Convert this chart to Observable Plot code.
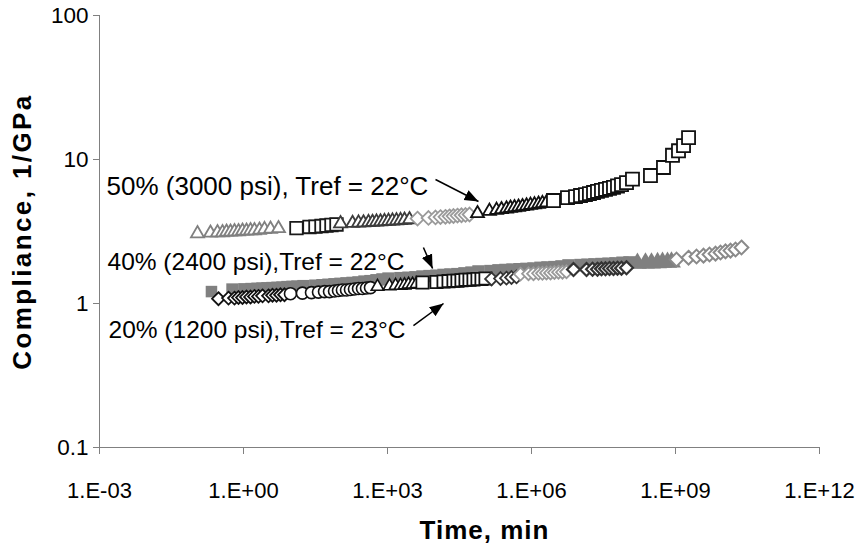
<!DOCTYPE html>
<html><head><meta charset="utf-8">
<script src="https://cdn.jsdelivr.net/npm/d3@7"></script>
<script src="https://cdn.jsdelivr.net/npm/@observablehq/plot@0.6"></script>
<style>html,body{margin:0;padding:0;background:#fff;}</style>
</head><body><div id="chart"></div>
<script>
// ---- axis ticks ----
const xTicks = [1e-3, 1e0, 1e3, 1e6, 1e9, 1e12];
const xTickLabels = ["1.E-03","1.E+00","1.E+03","1.E+06","1.E+09","1.E+12"];
const yTicks = [0.1, 1, 10, 100];
const yTickLabels = ["0.1","1","10","100"];
const xTitle = "Time, min";
const yTitle = "Compliance, 1/GPa";

// ---- 50% (3000 psi) master curve segments: time (min), compliance (1/GPa) ----
const s50a_t = [0.11,0.205,0.287,0.365,0.443,0.536,0.649,0.787,0.953,1.155,1.40,1.69,2.15,2.74,3.65,5.36];
const s50a_c = [3.06,3.09,3.11,3.11,3.14,3.14,3.16,3.16,3.19,3.19,3.21,3.21,3.24,3.27,3.29,3.32];
const s50b_t = [12.7,23.7,31.6,42.2,53.6,68.1,86.6];
const s50b_c = [3.34,3.40,3.42,3.45,3.48,3.51,3.54];
const s50c_t = [105,187,249,316,402,487,590,714,866,1050,1270,1540,1870,2260,2870];
const s50c_c = [3.59,3.61,3.63,3.64,3.66,3.67,3.69,3.70,3.72,3.73,3.75,3.76,3.78,3.80,3.83];
const s50d_t = [4220,7140,1e4,12700,16100,19600,23700,28700,34800,42200,51100];
const s50d_c = [3.89,3.93,3.96,3.98,4.00,4.03,4.05,4.08,4.10,4.12,4.15];
const s50e_t = [7.5e4,1.33e5,1.87e5,2.37e5,3.01e5,3.65e5,4.42e5,5.36e5,6.49e5,7.87e5,9.53e5,1.155e6,1.40e6,1.69e6,2.05e6];
const s50e_c = [4.22,4.38,4.45,4.50,4.55,4.60,4.64,4.68,4.72,4.77,4.82,4.86,4.91,4.96,5.02];
const s50f_t = [2.87e6,5.62e6,8.25e6,1.05e7,1.33e7,1.61e7,1.96e7,2.37e7,2.87e7,3.48e7,4.22e7,5.11e7,6.19e7,7.5e7,9.53e7,1.27e8];
const s50f_c = [5.19,5.44,5.52,5.62,5.71,5.80,5.90,6.00,6.10,6.20,6.30,6.40,6.55,6.70,6.90,7.30];
const s50g_t = [3.01e8,5.62e8,8.66e8,1.155e9,1.47e9,1.87e9];
const s50g_c = [7.74,8.80,10.7,11.5,12.5,14.2];

// ---- 40% (2400 psi) master curve segments ----
const s40h_t = [0.215];
const s40h_c = [1.21];
const s40i1_t = [0.59,1.05,1.47,1.96,2.49,3.16,4.02,5.11,6.49,8.25,10.5,13.3];
const s40i1_c = [1.25,1.255,1.26,1.265,1.27,1.275,1.28,1.285,1.29,1.30,1.305,1.31];
const s40i2_t = [17.8,31.6,44.2,59,78.7,105,140,187,249,332,442,590,787];
const s40i2_c = [1.32,1.33,1.34,1.35,1.36,1.37,1.38,1.39,1.40,1.42,1.43,1.45,1.47];
const s40i3_t = [1050,1870,2740,3830,5360,7500,10500,14700,20500,28700,40200,56200];
const s40i3_c = [1.49,1.50,1.51,1.52,1.54,1.55,1.56,1.58,1.59,1.60,1.62,1.64];
const s40i4_t = [7.87e4,1.4e5,2.05e5,2.87e5,4.02e5,5.62e5,7.87e5,1.1e6,1.54e6,2.15e6,3.01e6,4.22e6];
const s40i4_c = [1.67,1.68,1.70,1.71,1.72,1.73,1.74,1.75,1.77,1.78,1.79,1.81];
const s40i5_t = [5.9e6,1.05e7,1.47e7,2.05e7,2.87e7,4.02e7,5.62e7,7.87e7,1.1e8];
const s40i5_c = [1.84,1.85,1.86,1.87,1.88,1.89,1.90,1.92,1.93];
const s40i6_t = [1.61e8,2.37e8,3.16e8,4.22e8,5.36e8,6.81e8,8.25e8];
const s40i6_c = [1.90,1.91,1.91,1.92,1.93,1.93,1.94];
const s40i7_t = [1.05e9,1.87e9,2.74e9,3.83e9,5.11e9,6.81e9,8.66e9,1.1e10,1.4e10,1.78e10,2.37e10];
const s40i7_c = [2.02,2.08,2.12,2.15,2.19,2.22,2.26,2.30,2.33,2.37,2.45];

// ---- 20% (1200 psi) master curve segments ----
const s20j1_t = [0.301,0.487,0.649,0.787,0.953,1.155,1.40,1.69,2.05,2.49,3.32,4.02,4.87,5.90,7.14];
const s20j1_c = [1.08,1.09,1.09,1.10,1.10,1.11,1.11,1.12,1.12,1.13,1.13,1.14,1.14,1.15,1.15];
const s20j2_t = [9.53,16.9,26.1,36.5,48.7,61.9,78.7,95.3,115,140,169,205,249,301,365,442];
const s20j2_c = [1.17,1.18,1.19,1.20,1.21,1.21,1.22,1.23,1.24,1.24,1.25,1.26,1.27,1.27,1.28,1.29];
const s20j3_t = [619,1100,1470,1870,2260,2740,3320,4020];
const s20j3_c = [1.31,1.32,1.33,1.33,1.34,1.355,1.355,1.366];
const s20j4_t = [5360,10500,14700,18700,23700,28700,34800,42200,51100,61900,75000,90900,110000];
const s20j4_c = [1.40,1.41,1.42,1.43,1.44,1.44,1.45,1.46,1.46,1.47,1.48,1.48,1.49];
const s20j5_t = [1.47e5,2.26e5,3.01e5,3.83e5,4.87e5];
const s20j5_c = [1.48,1.49,1.50,1.515,1.53];
const s20j6_t = [5.9e5,8.66e5,1.1e6,1.4e6,1.69e6,2.05e6,2.49e6,3.01e6,3.65e6,4.42e6,5.36e6];
const s20j6_c = [1.60,1.61,1.61,1.62,1.62,1.63,1.63,1.64,1.65,1.65,1.66];
const s20j7_t = [7.5e6,1.4e7,1.87e7,2.37e7,2.87e7,3.48e7,4.22e7,5.11e7,6.19e7,7.5e7,9.53e7];
const s20j7_c = [1.72,1.72,1.73,1.73,1.74,1.74,1.75,1.75,1.76,1.76,1.77];

// ---- annotations ----
const labelText = ["50% (3000 psi), Tref = 22°C", "40% (2400 psi),Tref = 22°C", "20% (1200 psi),Tref = 23°C"];
const labelT = [1.4e-3, 1.47e-3, 1.54e-3];
const labelC = [6.49, 1.93, 0.65];
const arrowT1 = [1e4, 5600, 3470];
const arrowC1 = [7.26, 2.45, 0.703];
const arrowT2 = [7.87e4, 8700, 14700];
const arrowC2 = [5.11, 1.75, 1.0];

// ---- styles (drawing order) ----
const G = "#808080";
const labelSizes = [26, 24.5, 24.5];
const segs = [
  [s50a_t, s50a_c, {symbol:"triangle2", r:6.2, stroke:G, fill:"white", strokeWidth:1.8}],
  [s50b_t, s50b_c, {symbol:"square2", r:8, stroke:"#1a1a1a", fill:"white", strokeWidth:1.8}],
  [s50c_t, s50c_c, {symbol:"triangle2", r:6.2, stroke:"#3c3c3c", fill:"white", strokeWidth:1.8}],
  [s50d_t, s50d_c, {symbol:"diamond2", r:6.2, stroke:"#9a9a9a", fill:"white", strokeWidth:1.8}],
  [s50e_t, s50e_c, {symbol:"triangle2", r:6.2, stroke:"#111", fill:"white", strokeWidth:1.8}],
  [s50f_t, s50f_c, {symbol:"square2", r:8.3, stroke:"#111", fill:"white", strokeWidth:1.8}],
  [s50g_t, s50g_c, {symbol:"square2", r:8.3, stroke:"#111", fill:"white", strokeWidth:1.8}],
  [s40h_t, s40h_c, {symbol:"square", r:6.5, stroke:"none", fill:G}],
  [s40i1_t, s40i1_c, {symbol:"square", r:7, stroke:"none", fill:G}],
  [s40i2_t, s40i2_c, {symbol:"square", r:7, stroke:"none", fill:G}],
  [s40i3_t, s40i3_c, {symbol:"square", r:7, stroke:"none", fill:G}],
  [s40i4_t, s40i4_c, {symbol:"square", r:7, stroke:"none", fill:G}],
  [s40i5_t, s40i5_c, {symbol:"square", r:7, stroke:"none", fill:G}],
  [s40i6_t, s40i6_c, {symbol:"triangle", r:7, stroke:"none", fill:G}],
  [s40i7_t, s40i7_c, {symbol:"diamond2", r:6.2, stroke:"#8a8a8a", fill:"white", strokeWidth:2}],
  [s20j1_t, s20j1_c, {symbol:"diamond2", r:5.8, stroke:"#111", fill:"white", strokeWidth:1.8}],
  [s20j2_t, s20j2_c, {symbol:"circle", r:6, stroke:"#111", fill:"white", strokeWidth:1.6}],
  [s20j3_t, s20j3_c, {symbol:"triangle2", r:6, stroke:"#111", fill:"white", strokeWidth:1.6}],
  [s20j4_t, s20j4_c, {symbol:"square2", r:7.8, stroke:"#111", fill:"white", strokeWidth:1.8}],
  [s20j5_t, s20j5_c, {symbol:"diamond2", r:5.8, stroke:"#333", fill:"white", strokeWidth:1.8}],
  [s20j6_t, s20j6_c, {symbol:"diamond2", r:5.8, stroke:"#999", fill:"white", strokeWidth:1.8}],
  [s20j7_t, s20j7_c, {symbol:"diamond2", r:5.8, stroke:"#333", fill:"white", strokeWidth:2.2}]
];

function head(color, context) {
  const m = d3.create("svg:marker")
    .attr("viewBox", "-14 -6 14 12")
    .attr("markerWidth", 14).attr("markerHeight", 12)
    .attr("markerUnits", "userSpaceOnUse")
    .attr("refX", 0).attr("refY", 0)
    .attr("orient", "auto");
  m.append("path").attr("d", "M-14,-5.5L0,0L-14,5.5Z").attr("fill", "black").attr("stroke", "none");
  return m.node();
}

const labels = labelText.map((text, i) => ({text, t: labelT[i], c: labelC[i]}));
const arrows = arrowT1.map((t1, i) => ({t1, c1: arrowC1[i], t2: arrowT2[i], c2: arrowC2[i]}));

const dotMarks = segs.map(([ts, cs, style]) =>
  Plot.dot(ts.map((t, i) => ({t, c: cs[i]})), {x: "t", y: "c", ...style}));

const labelMarks = labels.map((d, i) =>
  Plot.text([d], {x: "t", y: "c", text: "text", textAnchor: "start", fontSize: labelSizes[i], fill: "black"}));

const chart = Plot.plot({
  width: 861, height: 557,
  marginLeft: 99, marginRight: 42, marginTop: 15, marginBottom: 110,
  x: {type: "log", domain: [1e-3, 1e12]},
  y: {type: "log", domain: [0.1, 100]},
  style: {fontFamily: "'Liberation Sans', Arial, sans-serif", background: "white", color: "black"},
  marks: [
    Plot.axisX(xTicks, {tickFormat: d => xTickLabels[xTicks.indexOf(d)], tickSize: 7, tickPadding: 28, fontSize: 22, stroke: G, label: null}),
    Plot.axisY(yTicks, {tickFormat: d => yTickLabels[yTicks.indexOf(d)], tickSize: 6, tickPadding: 5, fontSize: 22.5, stroke: G, label: null}),
    Plot.ruleY([0.1], {stroke: G}),
    Plot.ruleX([1e-3], {stroke: G}),
    ...dotMarks,
    Plot.link(arrows, {x1: "t1", y1: "c1", x2: "t2", y2: "c2", stroke: "black", strokeWidth: 1.5, markerEnd: head}),
    ...labelMarks,
    Plot.text([xTitle], {frameAnchor: "bottom", lineAnchor: "middle", dy: 83, dx: 25, fontWeight: "bold", fontSize: 26, fill: "black"}),
    Plot.text([yTitle], {frameAnchor: "left", lineAnchor: "middle", textAnchor: "middle", rotate: -90, dx: -77, fontWeight: "bold", fontSize: 26, fill: "black"})
  ]
});
d3.select(chart).selectAll("text").each(function () {
  if (this.textContent === yTitle) this.style.letterSpacing = "2.4px";
  if (this.textContent === xTitle) this.style.letterSpacing = "1px";
});
document.getElementById("chart").append(chart);
</script></body></html>
